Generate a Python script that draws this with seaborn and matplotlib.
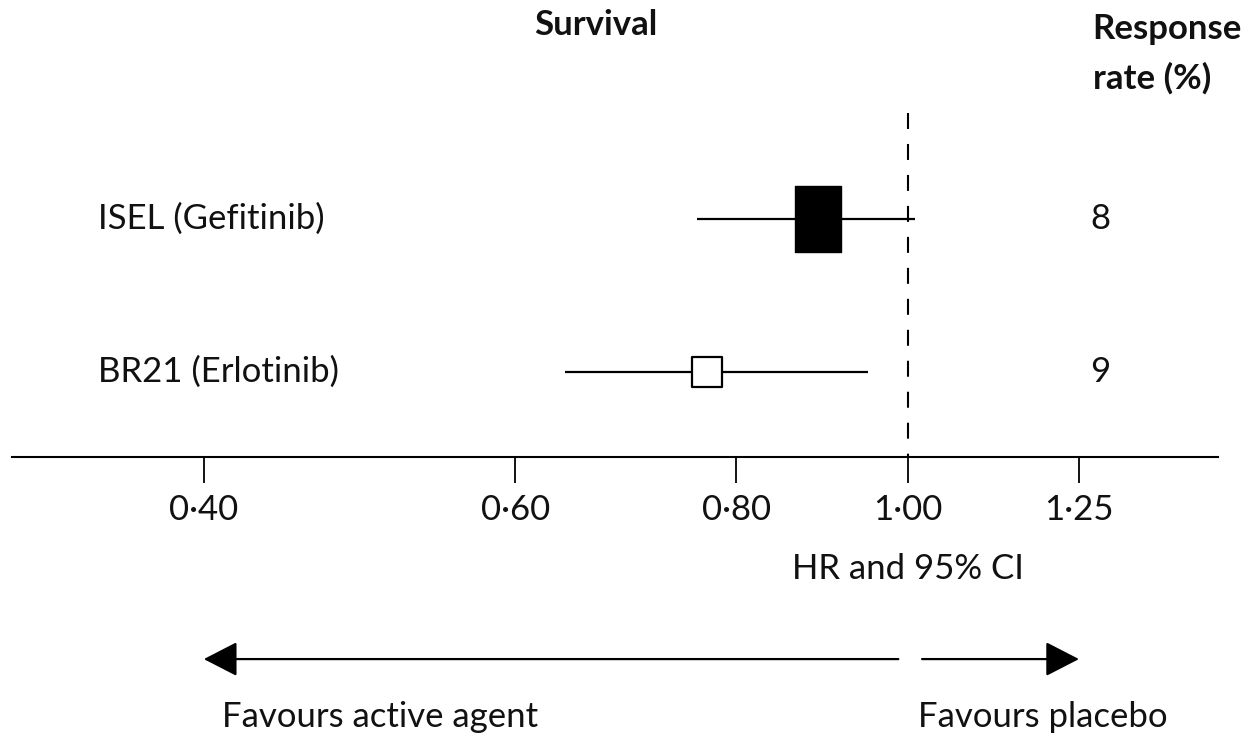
import numpy as np
import matplotlib
matplotlib.use("Agg")
import matplotlib.pyplot as plt
from matplotlib.path import Path
import seaborn as sns
import pandas as pd

# Trial results (hazard ratio for survival with 95% CI) and response rates
studies = ["ISEL (Gefitinib)", "BR21 (Erlotinib)"]
hr = [0.89, 0.77]
ci_low = [0.76, 0.64]
ci_high = [1.01, 0.95]
response_rate = ["8", "9"]

tick_values = [0.40, 0.60, 0.80, 1.00, 1.25]
tick_labels = ["0·40", "0·60", "0·80", "1·00", "1·25"]

df = pd.DataFrame({"study": studies, "hr": hr, "lo": ci_low, "hi": ci_high,
                   "row": np.arange(len(studies))})

sns.set_theme(style="white")
FONT = ["Lato", "DejaVu Sans"]
plt.rcParams["font.family"] = FONT
plt.rcParams["lines.scale_dashes"] = False

fig = plt.figure(figsize=(12.51, 7.40), dpi=100)
ax = fig.add_axes([12 / 1251, 0, 1206 / 1251, 1])
ax.set_xscale("log")
X0, X1 = 0.3116, 1.498
Y_BOTTOM, Y_TOP = 3.407, -1.429
ax.set_xlim(X0, X1)
ax.set_ylim(Y_BOTTOM, Y_TOP)
ax.patch.set_alpha(0)

# confidence interval lines
ax.hlines(df["row"], df["lo"], df["hi"], color="black", lw=1.6, zorder=2)

# study boxes: tall filled box for ISEL, open square for BR21
tall_box = Path([(-0.356, -0.5), (0.356, -0.5), (0.356, 0.5), (-0.356, 0.5), (-0.356, -0.5)],
                [Path.MOVETO, Path.LINETO, Path.LINETO, Path.LINETO, Path.CLOSEPOLY])
sns.scatterplot(data=df.iloc[[0]], x="hr", y="row", marker=tall_box, s=47.5 ** 2,
                color="black", edgecolor="black", linewidth=1, ax=ax, zorder=3, legend=False)
sns.scatterplot(data=df.iloc[[1]], x="hr", y="row", marker="s", s=21.5 ** 2,
                color="white", edgecolor="black", linewidth=1.6, ax=ax, zorder=3, legend=False)

# line of no effect
axis_row = 1.556
ax.vlines(1.0, -0.691, axis_row, color="black", lw=1.5, linestyles=[(0, (11.5, 10.8))], zorder=1)

# x axis
for side in ["top", "left", "right"]:
    ax.spines[side].set_visible(False)
ax.spines["bottom"].set_position(("data", axis_row))
ax.spines["bottom"].set_linewidth(1.5)
ax.spines["bottom"].set_color("black")
ax.set_xticks(tick_values)
ax.set_xticklabels(tick_labels)
ax.xaxis.set_minor_locator(matplotlib.ticker.NullLocator())
ax.tick_params(axis="x", which="major", direction="out", length=18.5, width=1.3,
               color="black", pad=8, labelsize=25, labelcolor="#111111", bottom=True)
ax.set_yticks([])
ax.set_xlabel("")
ax.set_ylabel("")

txt = dict(color="#111111", fontsize=25)


def px_row(py):
    """Row coordinate for a vertical pixel offset from the top of the figure."""
    return Y_TOP + py / 153


# study labels and response rates
for r, (name, rr) in enumerate(zip(studies, response_rate)):
    ax.text(X0 * np.exp(86 / 768), r, name, ha="left", va="center", **txt)
    ax.text(np.exp(193 / 768), r, rr, ha="center", va="center", **txt)

# headings
ax.text(np.exp(-312 / 768), px_row(25), "Survival", ha="center", va="center",
        fontweight="bold", **txt)
ax.text(np.exp(185 / 768), px_row(29), "Response", ha="left", va="center",
        fontweight="bold", **txt)
ax.text(np.exp(185 / 768), px_row(78), "rate (%)", ha="left", va="center",
        fontweight="bold", **txt)

ax.text(1.0, px_row(569), "HR and 95% CI", ha="center", va="center", **txt)

# direction arrows
arrow_row = px_row(659)
arrow_kw = dict(arrowstyle="-|>,head_length=1.05,head_width=0.54", color="black",
                lw=1.6, shrinkA=0, shrinkB=0, mutation_scale=20)
ax.annotate("", xy=(0.40, arrow_row), xytext=(0.988, arrow_row), arrowprops=arrow_kw)
ax.annotate("", xy=(1.25, arrow_row), xytext=(1.019, arrow_row), arrowprops=arrow_kw)

ax.text(0.40 * np.exp(18 / 768), px_row(717), "Favours active agent",
        ha="left", va="center", **txt)
ax.text(np.exp(10 / 768), px_row(717), "Favours placebo",
        ha="left", va="center", **txt)

fig.savefig("out.png", dpi=100, facecolor="white")
